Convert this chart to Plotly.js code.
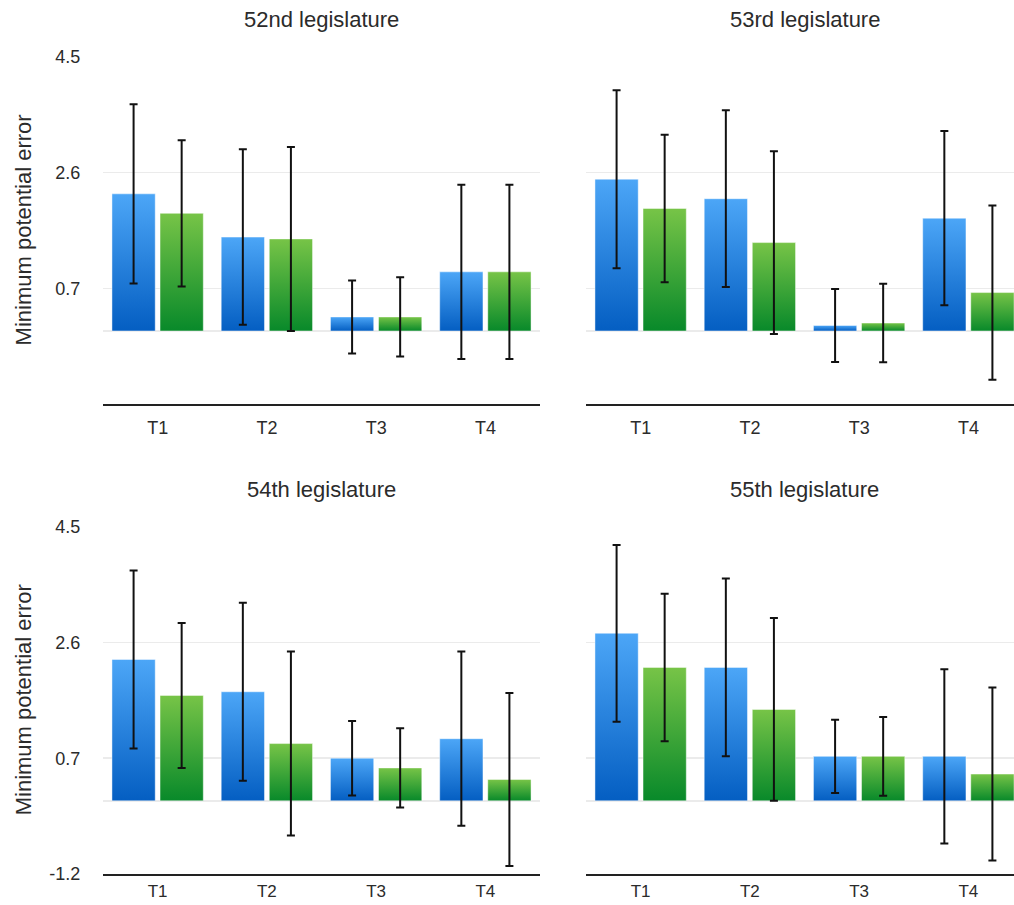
<!DOCTYPE html>
<html>
<head>
<meta charset="utf-8">
<script src="https://cdn.plot.ly/plotly-3.0.1.min.js"></script>
<style>
  html, body { margin: 0; padding: 0; background: #fff; }
  #chart { width: 1014px; height: 905px; }
</style>
</head>
<body>
<div id="chart"></div>
<script>
// ---- Data ----
const categories = ['T1', 'T2', 'T3', 'T4'];
const panelTitles = ['52nd legislature', '53rd legislature', '54th legislature', '55th legislature'];
const yTitle = 'Minimum potential error';
const yTickValsTop = [0.7, 2.6, 4.5];
const yTickValsBottom = [-1.2, 0.7, 2.6, 4.5];

const blue52 = [2.25, 1.54, 0.23, 0.97];
const blueErr52 = [1.47, 1.44, 0.60, 1.43];
const green52 = [1.93, 1.51, 0.23, 0.97];
const greenErr52 = [1.20, 1.51, 0.65, 1.43];

const blue53 = [2.49, 2.17, 0.09, 1.85];
const blueErr53 = [1.46, 1.45, 0.60, 1.43];
const green53 = [2.01, 1.45, 0.13, 0.63];
const greenErr53 = [1.21, 1.50, 0.645, 1.43];

const blue54 = [2.32, 1.79, 0.70, 1.02];
const blueErr54 = [1.46, 1.46, 0.61, 1.43];
const green54 = [1.73, 0.94, 0.54, 0.35];
const greenErr54 = [1.19, 1.51, 0.65, 1.42];

const blue55 = [2.75, 2.19, 0.73, 0.73];
const blueErr55 = [1.45, 1.46, 0.60, 1.43];
const green55 = [2.19, 1.50, 0.73, 0.44];
const greenErr55 = [1.21, 1.50, 0.645, 1.42];

// ---- Build ----
const W = 1014, H = 905;
const FONT = '"Liberation Sans", Arial, Helvetica, sans-serif';
const TXT = '#2b2b2b';

const panels = [
  {blue: blue52, be: blueErr52, green: green52, ge: greenErr52, xa: 'x',  ya: 'y'},
  {blue: blue53, be: blueErr53, green: green53, ge: greenErr53, xa: 'x2', ya: 'y2'},
  {blue: blue54, be: blueErr54, green: green54, ge: greenErr54, xa: 'x3', ya: 'y3'},
  {blue: blue55, be: blueErr55, green: green55, ge: greenErr55, xa: 'x4', ya: 'y4'}
];

function errSpec(arr) {
  return {type: 'data', array: arr, symmetric: true, visible: true,
          color: '#111', thickness: 2, width: 4};
}

const traces = [];
panels.forEach((p, i) => {
  traces.push({type: 'bar', name: 'blue', x: categories, y: p.blue, xaxis: p.xa, yaxis: p.ya,
    marker: {color: '#2a84e0', line: {color: 'rgba(255,255,255,0.45)', width: 1}},
    error_y: errSpec(p.be), hoverinfo: 'none'});
  traces.push({type: 'bar', name: 'green', x: categories, y: p.green, xaxis: p.xa, yaxis: p.ya,
    marker: {color: '#3aa338', line: {color: 'rgba(255,255,255,0.45)', width: 1}},
    error_y: errSpec(p.ge), hoverinfo: 'none'});
});

const px = v => v / W;
const pyTop = v => 1 - v / H;
const leftDom = [px(103), px(540)];
const rightDom = [px(586), 1];
const topDom = [pyTop(404.1), pyTop(56.7)];
const botDom = [pyTop(874), pyTop(526.6)];
const spacing = 437 / 4;
const rightRange = [-0.5, -0.5 + (W - 586) / spacing];

function xAxis(dom, range, anchor, tlen, fsize) {
  return {domain: dom, range: range, anchor: anchor, type: 'category',
    showline: true, linecolor: '#222', linewidth: 2, mirror: false,
    showgrid: false, zeroline: false,
    ticks: 'outside', ticklen: tlen, tickcolor: 'rgba(0,0,0,0)',
    tickfont: {family: FONT, size: fsize, color: TXT}, fixedrange: true};
}
function yAxis(dom, anchor, tickvals, showLabels) {
  return {domain: dom, range: [-1.2, 4.5], anchor: anchor,
    tickmode: 'array', tickvals: tickvals, ticktext: tickvals.map(v => String(v)),
    showticklabels: showLabels,
    showgrid: true, gridcolor: '#ebebeb', gridwidth: 1.5,
    zeroline: true, zerolinecolor: '#ebebeb', zerolinewidth: 1.5,
    showline: false,
    ticks: 'outside', ticklen: 18, tickcolor: 'rgba(0,0,0,0)',
    tickfont: {family: FONT, size: 18, color: TXT}, fixedrange: true};
}

const titleFont = {family: FONT, size: 22, color: TXT};
const yTitleFont = {family: FONT, size: 22, color: TXT};
const annotations = [
  {text: panelTitles[0], x: (leftDom[0] + leftDom[1]) / 2, y: pyTop(20), xref: 'paper', yref: 'paper',
   xanchor: 'center', yanchor: 'middle', showarrow: false, font: titleFont},
  {text: panelTitles[1], x: px(804.5), y: pyTop(20), xref: 'paper', yref: 'paper',
   xanchor: 'center', yanchor: 'middle', showarrow: false, font: titleFont},
  {text: panelTitles[2], x: (leftDom[0] + leftDom[1]) / 2, y: pyTop(490), xref: 'paper', yref: 'paper',
   xanchor: 'center', yanchor: 'middle', showarrow: false, font: titleFont},
  {text: panelTitles[3], x: px(804.5), y: pyTop(490), xref: 'paper', yref: 'paper',
   xanchor: 'center', yanchor: 'middle', showarrow: false, font: titleFont},
  {text: yTitle, x: px(23), y: pyTop(230.4), xref: 'paper', yref: 'paper', textangle: -90,
   xanchor: 'center', yanchor: 'middle', showarrow: false, font: yTitleFont},
  {text: yTitle, x: px(23), y: pyTop(700.3), xref: 'paper', yref: 'paper', textangle: -90,
   xanchor: 'center', yanchor: 'middle', showarrow: false, font: yTitleFont}
];

const layout = {
  width: W, height: H,
  margin: {l: 0, r: 0, t: 0, b: 0, pad: 0},
  paper_bgcolor: '#ffffff', plot_bgcolor: '#ffffff',
  showlegend: false,
  barmode: 'group', bargap: 0.12, bargroupgap: 0.1,
  font: {family: FONT, color: TXT},
  xaxis: xAxis(leftDom, [-0.5, 3.5], 'y', 6, 18),
  xaxis2: xAxis(rightDom, rightRange, 'y2', 6, 18),
  xaxis3: xAxis(leftDom, [-0.5, 3.5], 'y3', 1, 17),
  xaxis4: xAxis(rightDom, rightRange, 'y4', 1, 17),
  yaxis: yAxis(topDom, 'x', yTickValsTop, true),
  yaxis2: yAxis(topDom, 'x2', yTickValsTop, false),
  yaxis3: yAxis(botDom, 'x3', yTickValsBottom, true),
  yaxis4: yAxis(botDom, 'x4', yTickValsBottom, false),
  annotations: annotations
};

const NS = 'http://www.w3.org/2000/svg';
function makeGrad(id, top, bottom) {
  const g = document.createElementNS(NS, 'linearGradient');
  g.setAttribute('id', id);
  g.setAttribute('x1', '0'); g.setAttribute('y1', '0');
  g.setAttribute('x2', '0'); g.setAttribute('y2', '1');
  const s1 = document.createElementNS(NS, 'stop');
  s1.setAttribute('offset', '0'); s1.setAttribute('stop-color', top);
  const s2 = document.createElementNS(NS, 'stop');
  s2.setAttribute('offset', '1'); s2.setAttribute('stop-color', bottom);
  g.appendChild(s1); g.appendChild(s2);
  return g;
}
function applyGradients(gd) {
  const svg = gd.querySelector('.main-svg');
  if (!svg) return;
  if (!svg.querySelector('#customGradDefs')) {
    const defs = document.createElementNS(NS, 'defs');
    defs.setAttribute('id', 'customGradDefs');
    defs.appendChild(makeGrad('gradBlue', '#4ca6f7', '#045ec2'));
    defs.appendChild(makeGrad('gradGreen', '#77c447', '#08892a'));
    svg.insertBefore(defs, svg.firstChild);
  }
  gd.querySelectorAll('.barlayer .trace').forEach(tr => {
    const cd = tr.__data__;
    const t = cd && cd[0] && cd[0].trace;
    if (!t) return;
    const id = t.name === 'blue' ? 'gradBlue' : 'gradGreen';
    tr.querySelectorAll('.point path').forEach(p => { p.style.fill = 'url(#' + id + ')'; });
  });
}

const gd = document.getElementById('chart');
Plotly.newPlot(gd, traces, layout, {staticPlot: true, displayModeBar: false}).then(() => {
  applyGradients(gd);
  gd.on && gd.on('plotly_afterplot', () => applyGradients(gd));
});
</script>
</body>
</html>
